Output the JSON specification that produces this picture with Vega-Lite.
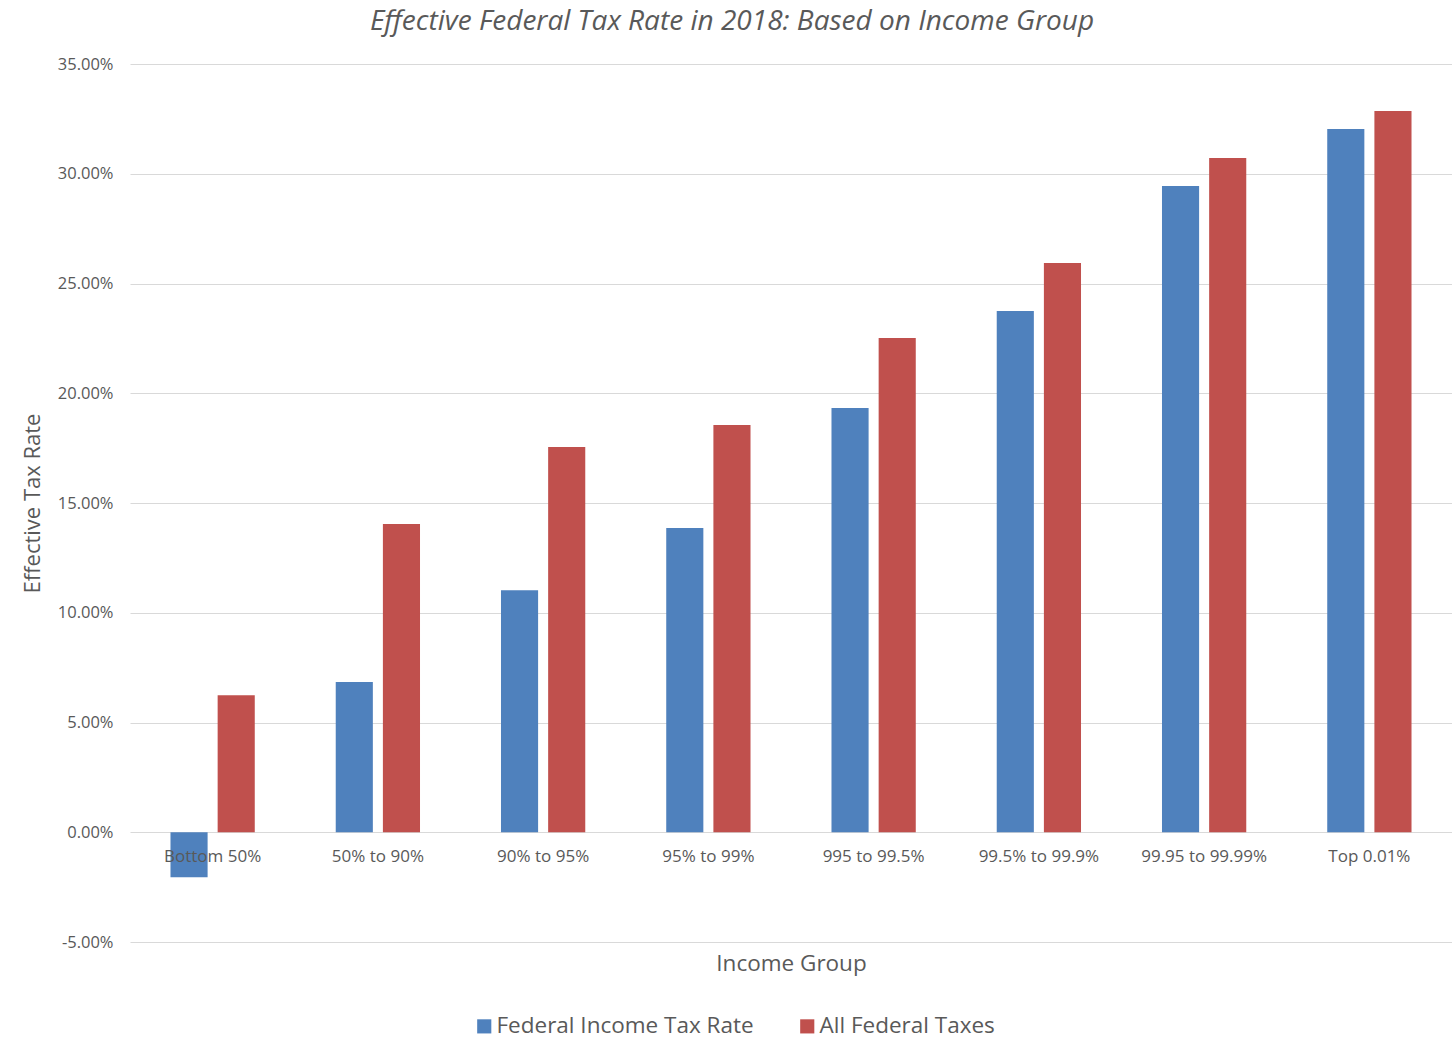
{
  "$schema": "https://vega.github.io/schema/vega-lite/v6.json",
  "autosize": "none",
  "width": 1322,
  "height": 878,
  "padding": {"left": 130, "top": 64, "right": 0, "bottom": 107},
  "background": "white",
  "config": {
    "font": "Open Sans",
    "view": {"stroke": null}
  },
  "title": {
    "text": "Effective Federal Tax Rate in 2018: Based on Income Group",
    "fontSize": 28,
    "fontStyle": "italic",
    "fontWeight": "normal",
    "color": "#595959",
    "anchor": "middle",
    "dx": -59,
    "offset": 20
  },
  "data": {
    "values": [
      {"group": "Bottom 50%", "series": "Federal Income Tax Rate", "rate": -0.0205},
      {"group": "Bottom 50%", "series": "All Federal Taxes", "rate": 0.0624},
      {"group": "50%  to 90%", "series": "Federal Income Tax Rate", "rate": 0.0684},
      {"group": "50%  to 90%", "series": "All Federal Taxes", "rate": 0.1404},
      {"group": "90% to 95%", "series": "Federal Income Tax Rate", "rate": 0.1103},
      {"group": "90% to 95%", "series": "All Federal Taxes", "rate": 0.1755},
      {"group": "95% to 99%", "series": "Federal Income Tax Rate", "rate": 0.1386},
      {"group": "95% to 99%", "series": "All Federal Taxes", "rate": 0.1855},
      {"group": "995 to 99.5%", "series": "Federal Income Tax Rate", "rate": 0.1933},
      {"group": "995 to 99.5%", "series": "All Federal Taxes", "rate": 0.2252},
      {"group": "99.5% to 99.9%", "series": "Federal Income Tax Rate", "rate": 0.2375},
      {"group": "99.5% to 99.9%", "series": "All Federal Taxes", "rate": 0.2593},
      {"group": "99.95 to 99.99%", "series": "Federal Income Tax Rate", "rate": 0.2944},
      {"group": "99.95 to 99.99%", "series": "All Federal Taxes", "rate": 0.3072},
      {"group": "Top 0.01%", "series": "Federal Income Tax Rate", "rate": 0.3204},
      {"group": "Top 0.01%", "series": "All Federal Taxes", "rate": 0.3286}
    ]
  },
  "mark": {"type": "bar"},
  "encoding": {
    "x": {
      "field": "group",
      "type": "nominal",
      "sort": null,
      "scale": {"paddingInner": 0.49, "paddingOuter": 0.245},
      "axis": {
        "title": "Income Group",
        "orient": "bottom",
        "offset": -110,
        "domain": false,
        "ticks": false,
        "labelAngle": 0,
        "labelFontSize": 17,
        "labelColor": "#595959",
        "labelPadding": 16,
        "titleFontSize": 22.5,
        "titleFontWeight": "normal",
        "titleColor": "#595959",
        "titlePadding": 88,
        "zindex": 1
      }
    },
    "xOffset": {
      "field": "series",
      "type": "nominal",
      "sort": ["Federal Income Tax Rate", "All Federal Taxes"],
      "scale": {"paddingInner": 0.213, "paddingOuter": 0}
    },
    "y": {
      "field": "rate",
      "type": "quantitative",
      "scale": {"domain": [-0.05, 0.35], "nice": false, "zero": false},
      "axis": {
        "title": "Effective Tax Rate",
        "format": ".2%",
        "labelExpr": "replace(datum.label, '\u2212', '-')",
        "values": [-0.05, 0, 0.05, 0.1, 0.15, 0.2, 0.25, 0.3, 0.35],
        "domain": false,
        "ticks": false,
        "grid": true,
        "gridColor": "#d9d9d9",
        "gridWidth": 1.2,
        "labelFontSize": 16.5,
        "labelColor": "#595959",
        "labelPadding": 17,
        "titleFontSize": 22,
        "titleFontWeight": "normal",
        "titleColor": "#595959",
        "titleX": -86,
        "zindex": 0
      }
    },
    "color": {
      "field": "series",
      "type": "nominal",
      "sort": ["Federal Income Tax Rate", "All Federal Taxes"],
      "scale": {"domain": ["Federal Income Tax Rate", "All Federal Taxes"], "range": ["#4F81BD", "#C0504D"]},
      "legend": {
        "title": null,
        "orient": "none",
        "direction": "horizontal",
        "legendX": 343,
        "legendY": 951,
        "symbolType": "square",
        "symbolSize": 200,
        "symbolStrokeWidth": 0,
        "symbolOpacity": 1,
        "labelFontSize": 22.5,
        "labelLimit": 0,
        "labelColor": "#595959",
        "labelOffset": 1,
        "columnPadding": 42
      }
    }
  }
}
